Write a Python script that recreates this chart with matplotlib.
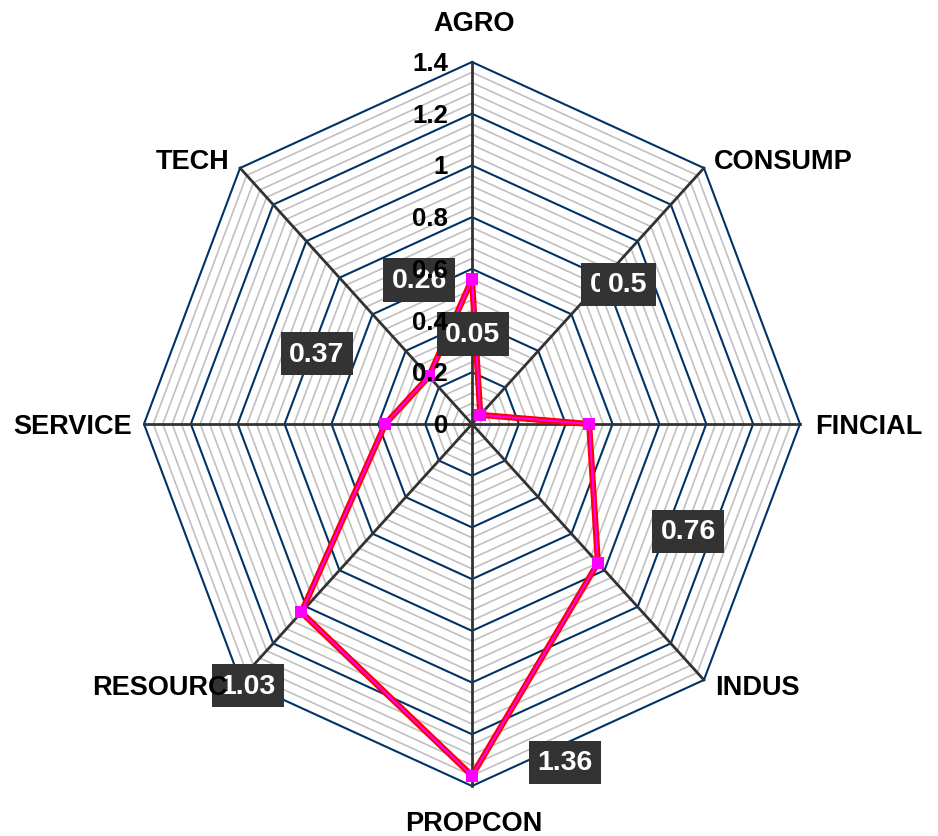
import numpy as np
import matplotlib
matplotlib.use("Agg")
import matplotlib.pyplot as plt

# -----------------------------
# DATA
# -----------------------------
categories = ["AGRO", "CONSUMP", "FINCIAL", "INDUS", "PROPCON", "RESOURC", "SERVICE", "TECH"]
values = [0.56, 0.05, 0.50, 0.76, 1.36, 1.03, 0.37, 0.26]
label_texts = ["0.56", "0.05", "0.5", "0.76", "1.36", "1.03", "0.37", "0.26"]
tick_values = [0, 0.2, 0.4, 0.6, 0.8, 1.0, 1.2, 1.4]
tick_labels = ["0", "0.2", "0.4", "0.6", "0.8", "1", "1.2", "1.4"]

# where excel dropped the data labels (x, y in chart units)
label_xy = [(0.619, 0.541), (0.004, 0.348), (0.666, 0.541), (0.922, -0.414),
            (0.397, -1.309), (-0.956, -1.013), (-0.662, 0.271), (-0.226, 0.557)]

# -----------------------------
# LAYOUT
# -----------------------------
W, H = 938, 837
CX, CY = 472, 425        # centre in pixels
RX, RY = 328, 362        # pixel radius of the 1.4 ring (chart is a bit squashed)
RMAX = 1.4
MINOR = 0.04
FONT = ["Liberation Sans", "DejaVu Sans"]

fig = plt.figure(figsize=(W / 100, H / 100), dpi=100)
ax = fig.add_axes([0, 0, 1, 1])
ax.set_xlim(-CX / RX * RMAX, (W - CX) / RX * RMAX)
ax.set_ylim(-(H - CY) / RY * RMAX, CY / RY * RMAX)
ax.set_axis_off()

n = len(categories)
theta = np.arange(n) * 2 * np.pi / n  # clockwise from top


def to_xy(r, th):
    return np.asarray(r) * np.sin(th), np.asarray(r) * np.cos(th)


# rings
th_closed = np.append(theta, theta[0])
for k in range(1, int(round(RMAX / MINOR)) + 1):
    r = k * MINOR
    x, y = to_xy(np.full(n + 1, r), th_closed)
    major = k % 5 == 0
    ax.plot(x, y, color="#003466" if major else "#c0c0c0",
            lw=1.5 if major else 1.2, zorder=2 if major else 1)

# spokes
for th in theta:
    x, y = to_xy([0, RMAX], [th, th])
    ax.plot(x, y, color="#333333", lw=2.0, zorder=3)

# series
vx, vy = to_xy(np.append(values, values[0]), th_closed)
ax.plot(vx, vy, color="#ff0000", lw=4.4, solid_joinstyle="miter", zorder=4)
ax.plot(vx, vy, color="#ff00ff", lw=1.4, zorder=5)
ax.plot(vx[:-1], vy[:-1], ls="none", marker="s", ms=9, mfc="#ff00ff",
        mec="#ff00ff", mew=0, zorder=6)

# data labels
for txt, (lx, ly) in zip(label_texts, label_xy):
    ax.text(lx, ly, txt, ha="center", va="center", color="white",
            fontsize=20.5, fontweight="bold", family=FONT,
            bbox=dict(boxstyle="square,pad=0.3", fc="#333333", ec="none"), zorder=7)

# value axis labels
for tv, tl in zip(tick_values, tick_labels):
    ax.annotate(tl, (0, tv), xytext=(-24, -1), textcoords="offset pixels",
                ha="right", va="center", fontsize=18.5, fontweight="bold",
                family=FONT, color="black", zorder=8)

# category labels
cat_offsets = [(2, 39, "center"), (10, 7, "left"), (15, -2, "left"), (11, -7, "left"),
               (2, -37, "center"), (-12, -7, "right"), (-12, -2, "right"), (-11, 7, "right")]
for cat, th, (dx, dy, ha) in zip(categories, theta, cat_offsets):
    px, py = to_xy(RMAX, th)
    ax.annotate(cat, (px, py), xytext=(dx, dy), textcoords="offset pixels",
                ha=ha, va="center", fontsize=19.5, fontweight="bold",
                family=FONT, color="black", zorder=8)

fig.savefig("out.png", dpi=100)
